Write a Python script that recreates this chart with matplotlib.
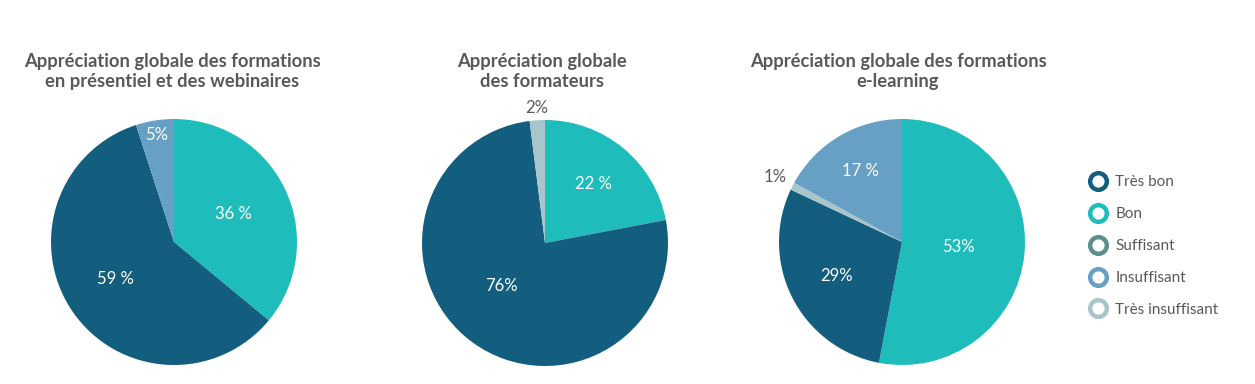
import matplotlib
matplotlib.use("Agg")
import matplotlib.pyplot as plt
import numpy as np
from matplotlib.lines import Line2D

plt.rcParams["font.family"] = ["Lato", "DejaVu Sans"]

# categories / colours
CATEGORIES = ["Très bon", "Bon", "Suffisant", "Insuffisant", "Très insuffisant"]
COLORS = {
    "Très bon": "#135E7E",
    "Bon": "#1EBCBA",
    "Suffisant": "#5E8E8E",
    "Insuffisant": "#68A0C5",
    "Très insuffisant": "#A8C5CC",
}

# pie 1 – présentiel + webinaires (clockwise from 12 o'clock)
p1_cats = ["Bon", "Très bon", "Insuffisant"]
p1_vals = [36, 59, 5]
p1_labels = ["36 %", "59 %", "5%"]

# pie 2 – formateurs
p2_cats = ["Bon", "Très bon", "Très insuffisant"]
p2_vals = [22, 76, 2]
p2_labels = ["22 %", "76%", "2%"]

# pie 3 – e-learning
p3_cats = ["Bon", "Très bon", "Très insuffisant", "Insuffisant"]
p3_vals = [53, 29, 1, 17]
p3_labels = ["53%", "29%", "1%", "17 %"]

titles = [
    "Appréciation globale des formations\nen présentiel et des webinaires",
    "Appréciation globale\ndes formateurs",
    "Appréciation globale des formations\ne-learning",
]

W, H = 1255, 384
fig = plt.figure(figsize=(W / 100, H / 100), dpi=100)

R = 123
centers = [(174, 242), (545, 243), (902, 242)]
title_x = [172, 542, 898]
label_r = [[0.53, 0.56, 0.88], [0.62, 0.5, 1.1], [0.46, 0.6, 1.16, 0.67]]
label_dang = [[0, -2, 0], [0, -9, 0], [0, 0, 0, 0]]
pies = [(p1_cats, p1_vals, p1_labels), (p2_cats, p2_vals, p2_labels),
        (p3_cats, p3_vals, p3_labels)]

for k, ((cats, vals, labs), (cx, cy)) in enumerate(zip(pies, centers)):
    ax = fig.add_axes([(cx - R) / W, (H - cy - R) / H, 2 * R / W, 2 * R / H])
    wedges, _ = ax.pie(vals, colors=[COLORS[c] for c in cats], startangle=90,
                       counterclock=False, radius=1.0,
                       wedgeprops=dict(linewidth=0))
    ax.set_xlim(-1, 1)
    ax.set_ylim(-1, 1)
    ax.set_aspect("equal")
    for w, lab, r, da in zip(wedges, labs, label_r[k], label_dang[k]):
        ang = np.deg2rad((w.theta1 + w.theta2) / 2 + da)
        col = "white" if r < 1 else "#595959"
        ax.text(r * np.cos(ang), r * np.sin(ang), lab, ha="center", va="center",
                fontsize=12, color=col, clip_on=False)
    fig.text(title_x[k] / W, 1 - 71.5 / H, titles[k], ha="center", va="center",
             fontsize=13.2, fontweight="bold", color="#595959", linespacing=1.25)

# legend
handles = [Line2D([], [], marker="o", linestyle="none", markersize=12,
                  markerfacecolor="white", markeredgecolor=COLORS[c],
                  markeredgewidth=3.2) for c in CATEGORIES]
fig.legend(handles, CATEGORIES, loc="center left",
           bbox_to_anchor=(1074 / W, 1 - 246 / H), frameon=False,
           fontsize=11, labelcolor="#595959", handletextpad=0.5,
           labelspacing=1.17, handlelength=1.3)

fig.savefig("out.png", dpi=100)
